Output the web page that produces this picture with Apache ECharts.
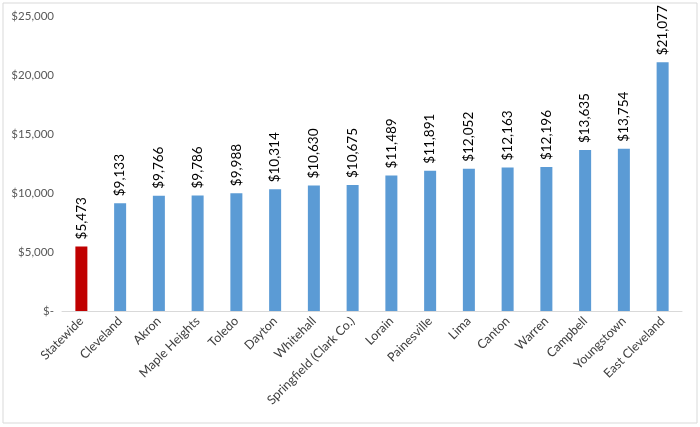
<!DOCTYPE html>
<html><head><meta charset="utf-8">
<script src="https://cdn.jsdelivr.net/npm/echarts@6/dist/echarts.min.js"></script>
<style>html,body{margin:0;padding:0;background:#fff}#c{width:700px;height:427px}</style>
</head><body><div id="c"></div>
<script>
const categories = ["Statewide","Cleveland","Akron","Maple Heights","Toledo","Dayton","Whitehall","Springfield (Clark Co.)","Lorain","Painesville","Lima","Canton","Warren","Campbell","Youngstown","East Cleveland"];
const values = [5473,9133,9766,9786,9988,10314,10630,10675,11489,11891,12052,12163,12196,13635,13754,21077];
const highlight = ["Statewide"];
const yTicks = [0,5000,10000,15000,20000,25000];

const fmt = v => v === 0 ? "$-" : "$" + v.toLocaleString("en-US");
const chart = echarts.init(document.getElementById('c'));
chart.setOption({
  animation:false,
  graphic:[{type:'rect',shape:{x:3,y:3,width:694,height:420},style:{fill:'none',stroke:'#d9d9d9',lineWidth:1},silent:true}],
  grid:{left:62,right:18,top:16,bottom:116},
  xAxis:{type:'category',data:categories,
    axisLine:{lineStyle:{color:'#d9d9d9'}},axisTick:{show:false},
    axisLabel:{rotate:45,interval:0,color:'#404040',fontSize:12.5,fontFamily:'Lato',margin:8}},
  yAxis:{type:'value',min:yTicks[0],max:yTicks[yTicks.length-1],interval:5000,
    splitLine:{show:false},axisLine:{show:false},axisTick:{show:false},
    axisLabel:{formatter:fmt,color:'#595959',fontSize:11.5,fontFamily:'Lato',margin:8}},
  series:[{type:'bar',barWidth:12,data:values,
    itemStyle:{color:p=>highlight.includes(categories[p.dataIndex])?'#C00000':'#5B9BD5'},
    label:{show:true,position:'top',rotate:90,align:'left',verticalAlign:'middle',distance:7,
      formatter:p=>fmt(p.value),color:'#000',fontSize:13.5,fontFamily:'Lato'}}]
});
</script></body></html>
